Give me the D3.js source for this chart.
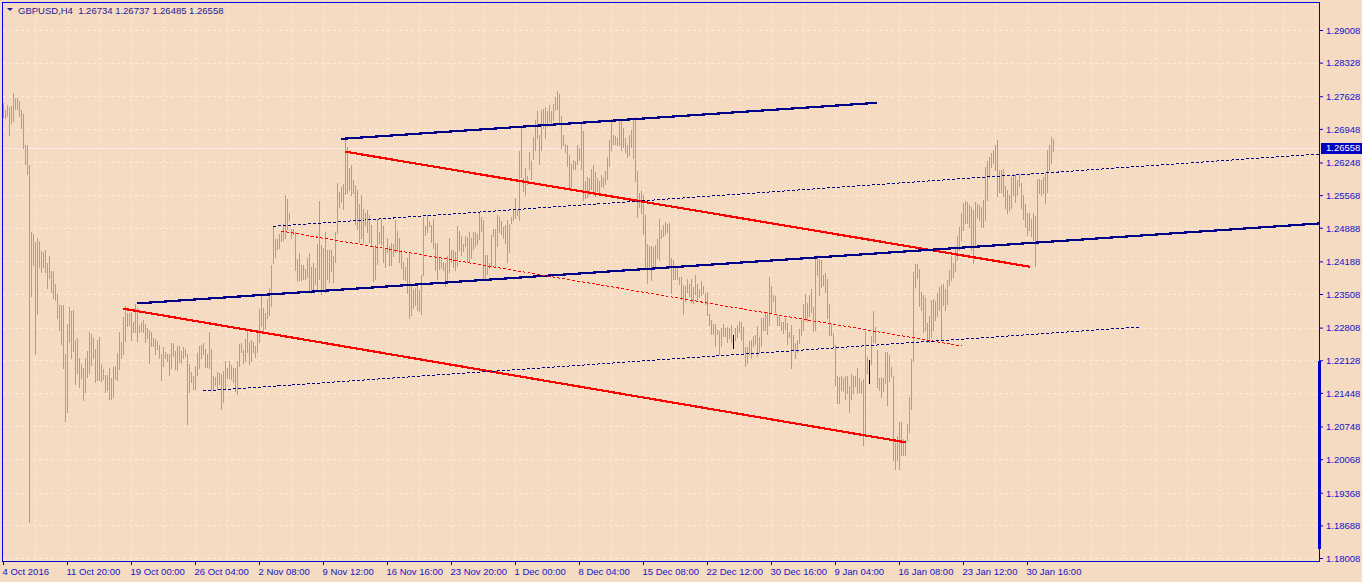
<!DOCTYPE html>
<html><head><meta charset="utf-8">
<script src="https://cdn.jsdelivr.net/npm/d3@7"></script>
<style>
html,body{margin:0;padding:0;background:#f5dbc2;overflow:hidden;}
svg{display:block;font-family:"Liberation Sans",Arial,sans-serif;}
</style></head><body>
<svg id="c" width="1362" height="582"></svg>
<script>
// ---------------- data ----------------
const symbolLabel = "GBPUSD,H4";
const lastOHLC = [1.26734, 1.26737, 1.26485, 1.26558];
const bidPrice = 1.26558;
const priceTicks = [1.18008,1.18688,1.19368,1.20068,1.20748,1.21448,1.22128,1.22808,1.23508,1.24188,1.24888,1.25568,1.26248,1.26948,1.27628,1.28328,1.29008];
const dateTickBars = [0,32,64,96,128,160,192,224,256,288,320,352,384,416,448,480,512];
const dateLabels = ["4 Oct 2016","11 Oct 20:00","19 Oct 00:00","26 Oct 04:00","2 Nov 08:00","9 Nov 12:00","16 Nov 16:00","23 Nov 20:00","1 Dec 00:00","8 Dec 04:00","15 Dec 08:00","22 Dec 12:00","30 Dec 16:00","9 Jan 04:00","16 Jan 08:00","23 Jan 12:00","30 Jan 16:00"];

const highs = [
1.2748,1.2734,1.2744,1.2741,1.2742,1.2769,1.2760,1.2760,1.2753,1.2735,
1.2725,1.2662,1.2662,1.2619,1.2479,1.2475,1.2460,1.2467,1.2461,1.2441,
1.2439,1.2443,1.2415,1.2430,1.2399,1.2399,1.2371,1.2351,1.2328,1.2328,
1.2328,1.2225,1.2289,1.2324,1.2315,1.2317,1.2255,1.2260,1.2218,1.2206,
1.2196,1.2218,1.2232,1.2271,1.2267,1.2260,1.2237,1.2255,1.2261,1.2204,
1.2194,1.2183,1.2182,1.2197,1.2175,1.2199,1.2200,1.2228,1.2271,1.2250,
1.2303,1.2325,1.2311,1.2311,1.2314,1.2292,1.2330,1.2322,1.2286,1.2293,
1.2296,1.2289,1.2280,1.2275,1.2272,1.2260,1.2258,1.2253,1.2244,1.2225,
1.2240,1.2229,1.2225,1.2225,1.2249,1.2249,1.2232,1.2242,1.2242,1.2233,
1.2240,1.2237,1.2225,1.2204,1.2189,1.2180,1.2200,1.2228,1.2243,1.2244,
1.2249,1.2237,1.2226,1.2271,1.2236,1.2180,1.2178,1.2189,1.2186,1.2185,
1.2190,1.2211,1.2196,1.2212,1.2203,1.2196,1.2197,1.2212,1.2246,1.2249,
1.2235,1.2258,1.2276,1.2251,1.2255,1.2251,1.2243,1.2273,1.2319,1.2350,
1.2321,1.2312,1.2340,1.2364,1.2411,1.2490,1.2465,1.2465,1.2476,1.2483,
1.2496,1.2557,1.2549,1.2519,1.2487,1.2486,1.2479,1.2423,1.2436,1.2411,
1.2411,1.2403,1.2426,1.2437,1.2407,1.2415,1.2404,1.2454,1.2544,1.2453,
1.2447,1.2480,1.2442,1.2443,1.2442,1.2430,1.2480,1.2583,1.2564,1.2573,
1.2580,1.2675,1.2657,1.2614,1.2619,1.2589,1.2578,1.2568,1.2539,1.2557,
1.2528,1.2519,1.2526,1.2515,1.2494,1.2450,1.2453,1.2507,1.2480,1.2508,
1.2493,1.2446,1.2467,1.2450,1.2458,1.2454,1.2504,1.2482,1.2467,1.2442,
1.2417,1.2407,1.2426,1.2436,1.2368,1.2362,1.2364,1.2371,1.2360,1.2390,
1.2511,1.2492,1.2515,1.2503,1.2494,1.2507,1.2457,1.2457,1.2425,1.2421,
1.2418,1.2415,1.2429,1.2467,1.2442,1.2442,1.2439,1.2492,1.2483,1.2471,
1.2455,1.2472,1.2469,1.2480,1.2468,1.2479,1.2480,1.2475,1.2519,1.2511,
1.2504,1.2432,1.2432,1.2415,1.2473,1.2487,1.2487,1.2515,1.2512,1.2503,
1.2490,1.2494,1.2504,1.2497,1.2512,1.2525,1.2550,1.2526,1.2648,1.2697,
1.2592,1.2614,1.2597,1.2647,1.2628,1.2678,1.2714,1.2733,1.2682,1.2735,
1.2736,1.2740,1.2733,1.2744,1.2733,1.2746,1.2762,1.2774,1.2768,1.2722,
1.2682,1.2664,1.2662,1.2640,1.2621,1.2629,1.2628,1.2662,1.2654,1.2704,
1.2690,1.2587,1.2594,1.2592,1.2612,1.2619,1.2604,1.2592,1.2586,1.2599,
1.2594,1.2608,1.2636,1.2671,1.2715,1.2683,1.2679,1.2676,1.2714,1.2711,
1.2696,1.2676,1.2662,1.2683,1.2693,1.2714,1.2719,1.2607,1.2561,1.2565,
1.2557,1.2515,1.2455,1.2450,1.2451,1.2449,1.2453,1.2465,1.2508,1.2485,
1.2494,1.2500,1.2497,1.2498,1.2425,1.2422,1.2406,1.2406,1.2386,1.2386,
1.2369,1.2368,1.2382,1.2372,1.2382,1.2365,1.2390,1.2372,1.2361,1.2378,
1.2368,1.2353,1.2354,1.2310,1.2296,1.2289,1.2289,1.2278,1.2273,1.2279,
1.2289,1.2280,1.2283,1.2280,1.2286,1.2265,1.2279,1.2287,1.2294,1.2293,
1.2282,1.2240,1.2240,1.2253,1.2255,1.2264,1.2265,1.2285,1.2262,1.2300,
1.2300,1.2311,1.2314,1.2386,1.2367,1.2348,1.2346,1.2308,1.2303,1.2293,
1.2292,1.2300,1.2290,1.2272,1.2287,1.2265,1.2248,1.2256,1.2278,1.2296,
1.2329,1.2351,1.2333,1.2349,1.2362,1.2324,1.2430,1.2433,1.2423,1.2422,
1.2391,1.2395,1.2383,1.2331,1.2288,1.2270,1.2244,1.2179,1.2177,1.2179,
1.2176,1.2179,1.2181,1.2159,1.2184,1.2180,1.2179,1.2197,1.2176,1.2169,
1.2173,1.2273,1.2220,1.2213,1.2263,1.2315,1.2283,1.2234,1.2176,1.2177,
1.2176,1.2231,1.2231,1.2223,1.2198,1.2179,1.2041,1.2054,1.2084,1.2084,
1.2048,1.2047,1.2079,1.2136,1.2216,1.2397,1.2413,1.2413,1.2402,1.2354,
1.2348,1.2345,1.2290,1.2304,1.2338,1.2341,1.2337,1.2352,1.2366,1.2369,
1.2372,1.2362,1.2380,1.2401,1.2429,1.2415,1.2450,1.2472,1.2491,1.2519,
1.2541,1.2544,1.2543,1.2536,1.2532,1.2526,1.2543,1.2538,1.2536,1.2533,
1.2547,1.2616,1.2627,1.2637,1.2644,1.2651,1.2662,1.2672,1.2609,1.2609,
1.2612,1.2575,1.2568,1.2557,1.2595,1.2601,1.2598,1.2588,1.2601,1.2582,
1.2557,1.2538,1.2519,1.2519,1.2508,1.2519,1.2513,1.2591,1.2591,1.2588,
1.2595,1.2602,1.2651,1.2662,1.2677,1.26737];

const lows = [
1.2720,1.2717,1.2722,1.2683,1.2708,1.2712,1.2737,1.2737,1.2722,1.2696,
1.2654,1.2621,1.2600,1.1876,1.2347,1.2411,1.2225,1.2310,1.2408,1.2396,
1.2408,1.2397,1.2364,1.2385,1.2354,1.2343,1.2338,1.2300,1.2276,1.2247,
1.2197,1.2086,1.2104,1.2251,1.2217,1.2233,1.2164,1.2187,1.2157,1.2175,
1.2130,1.2146,1.2178,1.2187,1.2203,1.2218,1.2167,1.2172,1.2171,1.2169,
1.2173,1.2147,1.2150,1.2132,1.2133,1.2136,1.2173,1.2172,1.2194,1.2218,
1.2226,1.2253,1.2285,1.2286,1.2254,1.2271,1.2271,1.2253,1.2271,1.2273,
1.2271,1.2250,1.2260,1.2207,1.2242,1.2242,1.2225,1.2237,1.2217,1.2171,
1.2201,1.2217,1.2212,1.2182,1.2197,1.2222,1.2194,1.2192,1.2210,1.2207,
1.2218,1.2222,1.2080,1.2146,1.2168,1.2153,1.2153,1.2182,1.2196,1.2217,
1.2225,1.2199,1.2199,1.2197,1.2150,1.2150,1.2161,1.2153,1.2164,1.2112,
1.2126,1.2153,1.2176,1.2176,1.2173,1.2167,1.2149,1.2142,1.2201,1.2230,
1.2208,1.2211,1.2230,1.2204,1.2212,1.2229,1.2219,1.2229,1.2250,1.2285,
1.2272,1.2280,1.2300,1.2307,1.2326,1.2415,1.2428,1.2444,1.2447,1.2462,
1.2464,1.2467,1.2487,1.2505,1.2468,1.2476,1.2400,1.2378,1.2380,1.2380,
1.2383,1.2383,1.2387,1.2360,1.2353,1.2362,1.2371,1.2361,1.2383,1.2350,
1.2357,1.2354,1.2383,1.2375,1.2399,1.2375,1.2418,1.2478,1.2533,1.2543,
1.2528,1.2560,1.2561,1.2568,1.2558,1.2561,1.2496,1.2487,1.2460,1.2467,
1.2460,1.2494,1.2480,1.2460,1.2453,1.2378,1.2382,1.2414,1.2457,1.2455,
1.2418,1.2408,1.2439,1.2412,1.2411,1.2429,1.2439,1.2440,1.2418,1.2404,
1.2382,1.2380,1.2353,1.2300,1.2307,1.2321,1.2328,1.2317,1.2315,1.2310,
1.2390,1.2473,1.2480,1.2493,1.2460,1.2446,1.2401,1.2383,1.2403,1.2404,
1.2400,1.2367,1.2376,1.2397,1.2418,1.2407,1.2400,1.2410,1.2443,1.2432,
1.2440,1.2450,1.2418,1.2417,1.2425,1.2444,1.2451,1.2455,1.2465,1.2482,
1.2383,1.2383,1.2393,1.2405,1.2407,1.2472,1.2407,1.2451,1.2480,1.2476,
1.2467,1.2458,1.2418,1.2439,1.2498,1.2504,1.2510,1.2515,1.2504,1.2594,
1.2565,1.2558,1.2579,1.2612,1.2590,1.2633,1.2651,1.2675,1.2622,1.2651,
1.2696,1.2675,1.2700,1.2710,1.2707,1.2714,1.2735,1.2737,1.2704,1.2654,
1.2661,1.2647,1.2618,1.2571,1.2573,1.2611,1.2612,1.2622,1.2629,1.2612,
1.2547,1.2550,1.2553,1.2560,1.2569,1.2557,1.2554,1.2565,1.2562,1.2576,
1.2573,1.2579,1.2590,1.2617,1.2651,1.2664,1.2664,1.2662,1.2662,1.2651,
1.2657,1.2647,1.2636,1.2640,1.2657,1.2635,1.2587,1.2512,1.2533,1.2519,
1.2476,1.2403,1.2374,1.2405,1.2380,1.2405,1.2407,1.2425,1.2421,1.2467,
1.2472,1.2475,1.2479,1.2405,1.2353,1.2383,1.2382,1.2383,1.2371,1.2340,
1.2310,1.2337,1.2355,1.2347,1.2335,1.2332,1.2350,1.2337,1.2344,1.2349,
1.2353,1.2329,1.2307,1.2286,1.2267,1.2268,1.2242,1.2268,1.2226,1.2242,
1.2264,1.2264,1.2250,1.2260,1.2251,1.2239,1.2254,1.2261,1.2272,1.2255,
1.2225,1.2200,1.2208,1.2225,1.2218,1.2242,1.2247,1.2222,1.2230,1.2243,
1.2276,1.2276,1.2268,1.2286,1.2314,1.2336,1.2314,1.2287,1.2286,1.2275,
1.2269,1.2278,1.2246,1.2261,1.2197,1.2237,1.2217,1.2229,1.2248,1.2265,
1.2276,1.2296,1.2294,1.2304,1.2313,1.2273,1.2276,1.2391,1.2348,1.2366,
1.2370,1.2356,1.2300,1.2265,1.2266,1.2241,1.2162,1.2123,1.2123,1.2151,
1.2148,1.2132,1.2145,1.2106,1.2133,1.2145,1.2159,1.2145,1.2147,1.2145,
1.2036,1.2055,1.2186,1.2166,1.2206,1.2251,1.2248,1.2158,1.2151,1.2137,
1.2148,1.2165,1.2120,1.2170,1.2179,1.2005,1.1986,1.2005,1.1986,1.2015,
1.2015,1.2015,1.2047,1.2064,1.2112,1.2211,1.2366,1.2384,1.2326,1.2318,
1.2272,1.2276,1.2251,1.2251,1.2262,1.2276,1.2297,1.2304,1.2318,1.2257,
1.2327,1.2318,1.2331,1.2369,1.2380,1.2387,1.2398,1.2422,1.2443,1.2463,
1.2484,1.2498,1.2498,1.2491,1.2443,1.2416,1.2450,1.2511,1.2505,1.2491,
1.2490,1.2505,1.2547,1.2595,1.2616,1.2623,1.2609,1.2554,1.2563,1.2563,
1.2554,1.2529,1.2519,1.2526,1.2529,1.2557,1.2543,1.2557,1.2575,1.2529,
1.2508,1.2490,1.2473,1.2484,1.2472,1.2463,1.2409,1.2456,1.2561,1.2558,
1.2561,1.2540,1.2563,1.2609,1.2623,1.26485];

// bar direction: u = up (close>open), d = down, n = unchanged
const barDir = [
"duuduuuudd","dddduuduuu","dduddddddd","dduuuddudu","dududududd",
"uuuduuuuuu","uudddduduu","dddddududu","udddudddud","uddududuuu",
"dddudduudd","uududdduuu","duddduduud","dduuuuuudd","uuduudduuu",
"dduddddddu","uuuddduudu","ddduudddud","dddudduuud","duddduuddd",
"dddduuuuuu","uududddddd","dduudddudu","uududuudud","duududuuud",
"udduuduuud","dududuuudu","uuduuuuddd","dddduuduuu","dudddududu",
"duuuuuudud","dddddudddd","dduududuuu","uudddddudd","ududdduduu",
"dudddduduu","dduddnuuud","ddduuuuduu","uduududddd","duddddduuu",
"uuuuddudud","dddduddddu","uddduududd","duunuuddud","uuduududuu",
"dduuuududd","dudduududd","uduuuduuuu","uududduduu","duuuuudddu",
"dddduddudd","ddududdudu","uuuuud"
].join("").split("");

// trend lines (anchors: bar index, price)
const lineStartBar   = [169.15, 171.15, 67.0, 60.15, 135.15, 139.0, 99.85];
const lineStartPrice = [1.26740, 1.26473, 1.23312, 1.23202, 1.24918, 1.24820, 1.21487];
const lineEndBar     = [437.0, 513.35, 658.0, 451.35, 658.0, 479.5, 568.5];
const lineEndPrice   = [1.27491, 1.24077, 1.24977, 1.20418, 1.26425, 1.22425, 1.22820];
const lineKind       = ["navyThick","redThick","navyThick","redThick","navyDot","redDot","navyDot"];

// ---------------- drawing ----------------
const W = 1362, H = 582;
const L = 2, T = 2, R = 1319, B = 561;
const svg = d3.select("#c");
svg.append("rect").attr("width", W).attr("height", H).attr("fill", "#f5dbc2");

const x = d3.scaleLinear().domain([0, 658]).range([3, 1319]);
const y = d3.scaleLinear().domain([1.18008, 1.29008]).range([558, 30]);

svg.append("clipPath").attr("id", "plot")
  .append("rect").attr("x", L).attr("y", T).attr("width", R - L).attr("height", B - T);

// grid
const grid = svg.append("g").attr("stroke", "#fbece0").attr("stroke-dasharray", "3,3")
  .attr("shape-rendering", "crispEdges").attr("clip-path", "url(#plot)");
grid.selectAll("line.h").data(priceTicks).join("line").attr("class", "h")
  .attr("x1", 3).attr("x2", R - 1)
  .attr("y1", d => Math.round(y(d)) + 0.5).attr("y2", d => Math.round(y(d)) + 0.5);
grid.selectAll("line.v").data(d3.range(16, 657, 16)).join("line").attr("class", "v")
  .attr("x1", d => Math.round(x(d)) + 0.5).attr("x2", d => Math.round(x(d)) + 0.5)
  .attr("y1", T + 1).attr("y2", B - 1);

// bid line
svg.append("line").attr("x1", L).attr("x2", R)
  .attr("y1", Math.round(y(bidPrice)) + 0.5).attr("y2", Math.round(y(bidPrice)) + 0.5)
  .attr("stroke", "#f7ece6").attr("stroke-width", 1);

// bars
const colors = { u: "#6fc47c", d: "#f0806f", n: "#000000" };
const bars = highs.map((h, i) => ({ i, h, l: lows[i], dir: barDir[i] || "u" }));
svg.append("g").attr("clip-path", "url(#plot)").attr("shape-rendering", "crispEdges")
  .selectAll("rect").data(bars).join("rect")
  .attr("x", d => Math.round(x(d.i)))
  .attr("width", 1)
  .attr("y", d => Math.round(y(d.h)))
  .attr("height", d => Math.max(1, Math.round(y(d.l)) - Math.round(y(d.h)) + 1))
  .attr("fill", d => colors[d.dir] || colors.u);

// trend lines
const styles = {
  navyThick: { c: "#000088", w: 2.2, dash: null },
  redThick:  { c: "#ff0000", w: 2.2, dash: null },
  navyDot:   { c: "#000088", w: 1, dash: "3,2" },
  redDot:    { c: "#ff0000", w: 1, dash: "3,2" }
};
const tl = lineStartBar.map((b, k) => ({ b1: b, p1: lineStartPrice[k], b2: lineEndBar[k], p2: lineEndPrice[k], s: styles[lineKind[k]] }));
svg.append("g").attr("clip-path", "url(#plot)")
  .selectAll("line").data(tl).join("line")
  .attr("x1", d => x(d.b1)).attr("y1", d => y(d.p1))
  .attr("x2", d => x(d.b2)).attr("y2", d => y(d.p2))
  .attr("stroke", d => d.s.c).attr("stroke-width", d => d.s.w)
  .attr("stroke-dasharray", d => d.s.dash)
  .attr("shape-rendering", "crispEdges");

// frame
const axisCol = "#0000d0";
svg.append("rect").attr("x", L + 0.5).attr("y", T + 0.5).attr("width", R - L).attr("height", B - T)
  .attr("fill", "none").attr("stroke", "#0000ff").attr("stroke-width", 1);
svg.append("line").attr("x1", R + 0.5).attr("x2", R + 0.5).attr("y1", T).attr("y2", B + 1).attr("stroke", axisCol);
svg.append("line").attr("x1", L).attr("x2", R + 1).attr("y1", B + 0.5).attr("y2", B + 0.5).attr("stroke", axisCol);

// right price axis
const ya = svg.append("g").attr("transform", `translate(${R},0)`)
  .call(d3.axisRight(y).tickValues(priceTicks).tickSize(4).tickPadding(3).tickFormat(d3.format(".5f")));
ya.select(".domain").remove();
ya.selectAll(".tick line").attr("stroke", axisCol);
ya.selectAll(".tick text").attr("fill", "#1414c8").attr("font-size", "9.5px")
  .attr("font-family", "Liberation Sans, Arial, sans-serif").attr("dy", "0.35em");

// bottom time axis
const xa = svg.append("g").attr("transform", `translate(0,${B})`)
  .call(d3.axisBottom(x).tickValues(dateTickBars).tickSize(4).tickFormat((d, k) => dateLabels[k]));
xa.select(".domain").remove();
xa.selectAll(".tick line").attr("stroke", axisCol);
xa.selectAll(".tick text").attr("fill", "#1414c8").attr("font-size", "9.5px")
  .attr("font-family", "Liberation Sans, Arial, sans-serif")
  .attr("text-anchor", "start").attr("x", -1).attr("y", 13.5).attr("dy", "0");

// blue marker bar on the price scale
svg.append("rect").attr("x", R - 1).attr("y", 361).attr("width", 3).attr("height", 188).attr("fill", "#0000cc");

// bid price box
const by = Math.round(y(bidPrice));
svg.append("rect").attr("x", R + 2).attr("y", by - 5).attr("width", W - R - 2).attr("height", 11).attr("fill", "#0000c4");
svg.append("text").attr("x", R + 7).attr("y", by).attr("dy", "0.35em").attr("fill", "#ffffff")
  .attr("font-size", "9.5px").text(d3.format(".5f")(bidPrice));

// title
svg.append("path").attr("d", "M7,8 L13,8 L10,11 Z").attr("fill", "#1a1a9a");
svg.append("text").attr("x", 18).attr("y", 14).attr("fill", "#1a1a9a").attr("font-size", "9.5px")
  .style("white-space", "pre")
  .text(symbolLabel + "  " + lastOHLC.map(d3.format(".5f")).join(" "));
</script>
</body></html>
